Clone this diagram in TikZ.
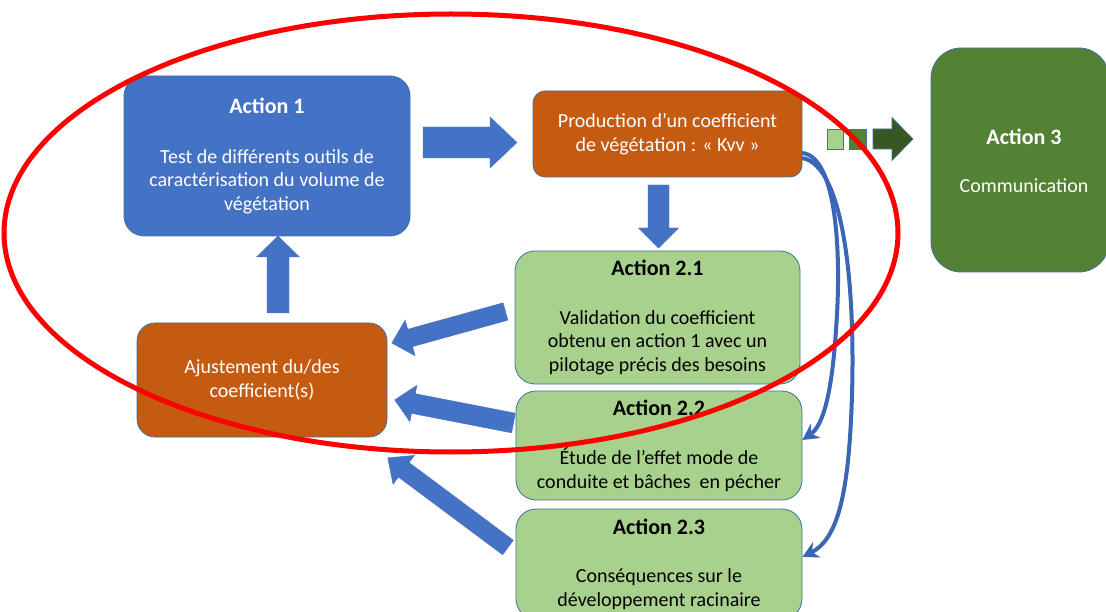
\documentclass[tikz,border=0pt]{standalone}
\usepackage{fontspec}
\setmainfont{Carlito}
\usetikzlibrary{arrows.meta}
\definecolor{ablue}{HTML}{4472C4}
\definecolor{aorange}{HTML}{C55A11}
\definecolor{lgreen}{HTML}{A9D18E}
\definecolor{mgreen}{HTML}{548235}
\definecolor{dgreen}{HTML}{385723}
\definecolor{bordc}{HTML}{41719C}
\definecolor{curvec}{HTML}{3A66B5}
\newcommand\barrow[8]{%
  \fill[#8, shift={(#1,#2)}, rotate=#3]
    (0,{-#5/2}) -- ({#4-#7},{-#5/2}) -- ({#4-#7},{-#6/2}) -- (#4,0)
    -- ({#4-#7},{#6/2}) -- ({#4-#7},{#5/2}) -- (0,{#5/2}) -- cycle;}
\newcommand\hd[1]{{\fontsize{22}{24}\selectfont\bfseries #1}}
\begin{document}
\begin{tikzpicture}[x=1pt,y=-1pt,
  box/.style={draw=bordc, line width=0.8pt, align=center, inner sep=0pt,
    font=\fontsize{20}{23.6}\selectfont},
  wbox/.style={box, text=white},
  kbox/.style={box, text=black, fill=lgreen, rounded corners=20pt},
  barrowfill/.style={fill=ablue, draw=ablue, line width=0.4pt},
  garrowfill/.style={fill=dgreen, draw=bordc, line width=0.6pt},
  curvearrow/.style={draw=curvec, line width=4pt, -{Stealth[length=16pt,width=17pt]}}]
\clip (0,0) rectangle (1106,612);
\fill[white] (0,0) rectangle (1106,612);

% boxes
\node[wbox, fill=ablue, rounded corners=20pt, minimum width=286pt, minimum height=160pt]
  (a1) at (267,156) {\hd{Action 1}\\[26pt]Test de différents outils de\\caractérisation du volume de\\végétation};
\node[wbox, fill=aorange, rounded corners=12pt, minimum width=269pt, minimum height=86pt]
  (prod) at (667.5,134) {Production d’un coefficient\\de végétation : « Kvv »};
\node[wbox, fill=mgreen, rounded corners=30pt, minimum width=178pt, minimum height=224pt]
  (a3) at (1020,160) {};
\node[text=white, align=center, font=\fontsize{20}{24}\selectfont] (a3t) at (1024,161)
  {\hd{Action 3}\\[24pt]Communication};
\node[kbox, minimum width=285pt, minimum height=133pt]
  (a21) at (657.5,317.5) {\hd{Action 2.1}\\[25pt]Validation du coefficient\\obtenu en action 1 avec un\\pilotage précis des besoins};
\node[kbox, minimum width=286pt, minimum height=109pt]
  (a22) at (659,445.5) {\hd{Action 2.2}\\[26pt]Étude de l’effet mode de\\conduite et bâches\ \ en pécher};
\node[kbox, minimum width=286pt, minimum height=110pt]
  (a23) at (659,564) {\hd{Action 2.3}\\[25pt]Conséquences sur le\\développement racinaire};
\node[wbox, fill=aorange, rounded corners=18pt, minimum width=250pt, minimum height=114pt]
  (aj) at (262,380) {Ajustement du/des\\coefficient(s)};

% block arrows
\barrow{423}{142.5}{0}{94}{31}{51}{27}{barrowfill}
\barrow{658.5}{185}{-90}{63}{21}{40}{20}{barrowfill}
\barrow{278}{313}{90}{77}{22}{43}{21}{barrowfill}
\barrow{505.5}{311.5}{195.5}{118}{18}{37}{19}{barrowfill}
\barrow{513.5}{423}{169}{121}{20}{37}{19}{barrowfill}
\barrow{508}{547.5}{143.3}{150}{18}{36}{20}{barrowfill}

% squares and green arrow
\node[draw=bordc, fill=lgreen, line width=0.6pt, minimum width=16pt, minimum height=20pt, inner sep=0pt] (sq1) at (835,139) {};
\node[draw=bordc, fill=mgreen, line width=0.6pt, minimum width=17pt, minimum height=20pt, inner sep=0pt] (sq2) at (857.5,139) {};
\barrow{873}{139}{0}{40}{20}{43}{21}{garrowfill}

% curved arrows
\coordinate (c0) at (802,153);
\coordinate (c1) at (802,158);
\draw[curvearrow] (c0) .. controls (836,156) and (842,250) .. (836,330)
  .. controls (832,390) and (824,425) .. (a22.east |- 0,440);
\draw[curvearrow] (c1) .. controls (846,165) and (857,300) .. (851,420)
  .. controls (847,500) and (836,540) .. (a23.east |- 0,557);

% red ellipse
\draw[red, line width=5pt] (451,233) ellipse [x radius=447, y radius=219];
\end{tikzpicture}
\end{document}
